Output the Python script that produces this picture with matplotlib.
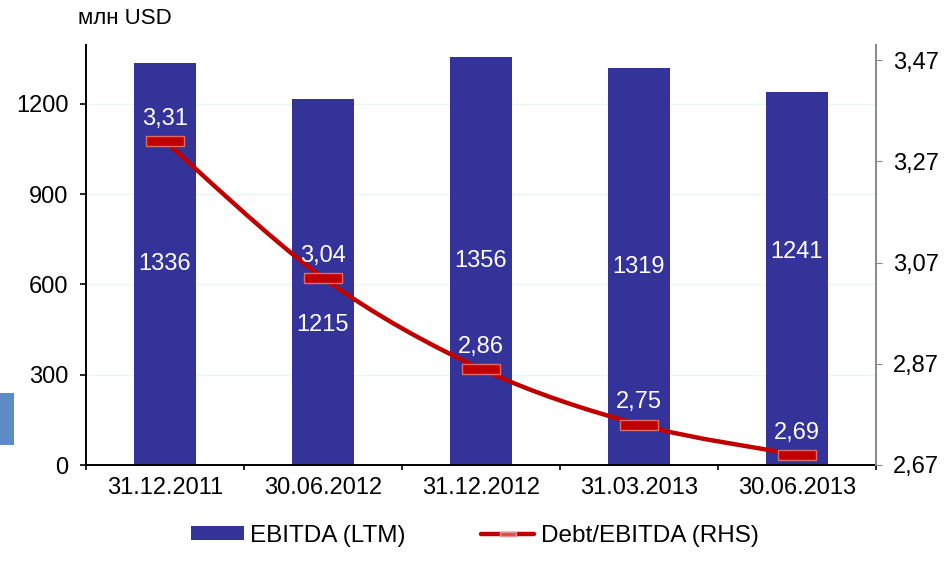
import numpy as np
import matplotlib
matplotlib.use("Agg")
import matplotlib.pyplot as plt
from matplotlib.path import Path
from matplotlib.patches import PathPatch, Rectangle
from matplotlib.lines import Line2D

plt.rcParams['font.family'] = ['Liberation Sans', 'DejaVu Sans']

# data
dates = ['31.12.2011', '30.06.2012', '31.12.2012', '31.03.2013', '30.06.2013']
ebitda = [1336, 1215, 1356, 1319, 1241]
debt_ebitda = [3.31, 3.04, 2.86, 2.75, 2.69]
left_ticks = [0, 300, 600, 900, 1200]
right_ticks = [2.67, 2.87, 3.07, 3.27, 3.47]

# label nudges (points) for bar values, as placed on the original
bar_lbl_shift = [0, -31, 0, 0, 19]

BAR = '#333399'
RED = '#c00000'
FS = 17

fig = plt.figure(figsize=(9.49, 5.63), dpi=100)
ax = fig.add_axes([86/949, 1-465/563, 790/949, 420/563])
ax2 = ax.twinx()

x = np.arange(len(dates))
ax.bar(x, ebitda, width=0.39, color=BAR, zorder=2)
ax.set_xlim(-0.5, len(dates)-0.5)
ax.set_ylim(0, 1396)
ax.set_yticks(left_ticks)
ax.set_yticklabels([str(t) for t in left_ticks], fontsize=FS)
ax.set_xticks(x)
ax.set_xticklabels(dates, fontsize=FS)
ax.tick_params(axis='x', length=0, pad=9)
ax.set_xticks(np.arange(-0.5, len(dates)), minor=True)
ax.tick_params(axis='x', which='minor', length=3.5, width=1.2, color='black', direction='out')
ax.tick_params(axis='y', length=4.5, width=1.2, color='black', pad=8)
for t in left_ticks[1:]:
    ax.axhline(t, color='#edf4f4', lw=1, zorder=0)
ax.spines['top'].set_visible(False)
ax.spines['right'].set_visible(False)
ax.spines['left'].set_linewidth(1.4)
ax.spines['bottom'].set_linewidth(1.4)

for xi, v, sh in zip(x, ebitda, bar_lbl_shift):
    ax.annotate(str(v), (xi, v/2), xytext=(0, sh), textcoords='offset points',
                ha='center', va='center', color='white', fontsize=FS, zorder=3)

# right axis, smoothed line
ax2.set_ylim(2.67, 3.5)
ax2.set_yticks(right_ticks)
ax2.set_yticklabels([('%.2f' % t).replace('.', ',') for t in right_ticks], fontsize=FS)
ax2.tick_params(axis='y', length=4.5, color='#888888', pad=8)
for s in ['top', 'left', 'bottom']:
    ax2.spines[s].set_visible(False)
ax2.spines['right'].set_color('#888888')
ax2.spines['right'].set_linewidth(1.4)

px = np.array(x, dtype=float)
py = np.array(debt_ebitda)
verts = [(px[0], py[0])]
codes = [Path.MOVETO]
n = len(px)
for i in range(n-1):
    p0 = (px[max(i-1, 0)], py[max(i-1, 0)])
    p1 = (px[i], py[i])
    p2 = (px[i+1], py[i+1])
    p3 = (px[min(i+2, n-1)], py[min(i+2, n-1)])
    c1 = (p1[0] + (p2[0]-p0[0])/6, p1[1] + (p2[1]-p0[1])/6)
    c2 = (p2[0] - (p3[0]-p1[0])/6, p2[1] - (p3[1]-p1[1])/6)
    verts += [c1, c2, p2]
    codes += [Path.CURVE4]*3
ax2.add_patch(PathPatch(Path(verts, codes), fill=False, edgecolor=RED, lw=3.2,
                        capstyle='round', zorder=3))

rect = [(-2, -0.5), (2, -0.5), (2, 0.5), (-2, 0.5), (-2, -0.5)]
ax2.plot(px, py, linestyle='none', marker=rect, markersize=28,
         markerfacecolor=RED, markeredgecolor='#e06a6a', markeredgewidth=1, zorder=4)
for xi, v in zip(px, py):
    ax2.annotate(('%.2f' % v).replace('.', ','), (xi, v), xytext=(0, 16),
                 textcoords='offset points', ha='center', va='center',
                 color='white', fontsize=FS, zorder=5)

fig.text(78/949, 1-18/563, 'млн USD', fontsize=16, ha='left', va='center')

# stray blue box at left edge
fig.patches.append(Rectangle((0, 1-445/563), 14/949, 52/563, transform=fig.transFigure,
                             facecolor='#5e8ac6', edgecolor='none'))

h1 = Rectangle((0, 0), 1, 1, facecolor=BAR)
h2 = Line2D([0], [0], color=RED, lw=3.2, marker=rect, markersize=11,
            markerfacecolor='#d84848', markeredgecolor='#e89090', solid_capstyle='round')
fig.legend([h1, h2], ['EBITDA (LTM)', 'Debt/EBITDA (RHS)'], ncol=2, loc='lower center',
           bbox_to_anchor=(0.5, -0.01), frameon=False, fontsize=17.5, handlelength=2.2,
           handleheight=0.55, handletextpad=0.25, columnspacing=3.1)

fig.savefig('out.png', dpi=100)
